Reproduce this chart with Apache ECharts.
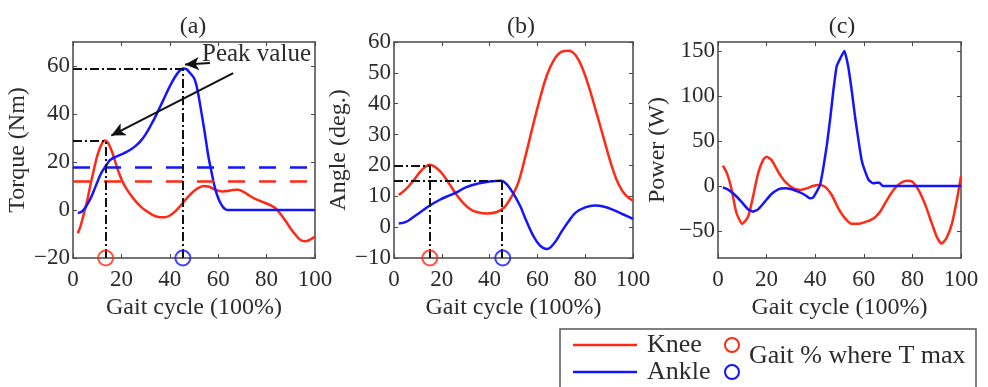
<!DOCTYPE html>
<html>
<head>
<meta charset="utf-8">
<script src="https://cdn.jsdelivr.net/npm/echarts@6/dist/echarts.min.js"></script>
<style>
  html, body { margin: 0; padding: 0; background: #ffffff; }
  #chart { width: 988px; height: 387px; }
</style>
</head>
<body>
<div id="chart"></div>
<script>
// ---- (a) joint torque (Nm) over the gait cycle (%) ----
const torqueKneeX = [2, 3, 4, 5, 6, 7, 8, 9, 10, 11, 12, 13, 14, 15, 16, 17, 18, 19, 20, 21, 22, 24, 26, 28, 30, 33, 36, 38, 40, 42, 44, 46, 48, 50, 52, 54, 56, 58, 60, 62, 64, 66, 68, 70, 72, 74, 76, 78, 80, 82, 84, 86, 88, 90, 92, 94, 96, 98, 100];
const torqueKneeY = [-9.7, -7, -3.5, 0.5, 4.5, 9.5, 14, 18.5, 22.5, 25.5, 27.8, 29, 28.6, 27, 24.6, 21.6, 18.4, 15.4, 12.9, 10.8, 9, 6, 3.5, 1.4, -0.2, -2.1, -3, -3, -2.3, -0.8, 1.3, 3.7, 6, 7.9, 9.3, 10, 9.8, 8.8, 8, 7.7, 7.9, 8.3, 8.4, 7.8, 6.6, 5.3, 4.3, 3.5, 2.7, 1.8, 0.5, -2, -4.8, -7.8, -10.4, -12.5, -13, -12.3, -11];
const torqueAnkleX = [2, 3, 4, 5, 6, 7, 8, 9, 10, 11, 12, 13, 14, 15, 16, 18, 20, 22, 24, 26, 28, 30, 32, 34, 36, 38, 40, 42, 44, 45.5, 47, 48, 50, 51, 52, 53, 54, 55, 56, 57, 58, 59, 60, 61, 62, 63, 64, 100];
const torqueAnkleY = [-1.2, -1, -0.3, 0.8, 2.5, 4.3, 6.5, 9, 11.5, 14, 16, 17.5, 19, 20.5, 21.3, 22.3, 23.2, 24.1, 25.3, 26.8, 28.8, 31.5, 35, 38.8, 43, 47.3, 51.5, 55.2, 58, 59, 58.6, 57.5, 55, 52, 47, 41, 35, 28.5, 22, 17, 12, 8, 5, 2.8, 1.2, 0.3, 0, 0];
const torqueMeanLevels = [12, 18];          // knee, ankle
const torquePeakX = [13.5, 45.4];           // knee, ankle
const torquePeakY = [29, 59];

// ---- (b) joint angle (deg.) ----
const angleKneeX = [2, 5, 8, 11, 13, 15, 17, 19, 21, 23, 26, 29, 32, 35, 39, 43, 46, 48, 50, 52, 55, 58, 61, 64, 67, 70, 73, 76, 79, 82, 85, 88, 91, 94, 97, 100];
const angleKneeY = [10.4, 12.3, 15, 18, 19.5, 20.2, 19.6, 18.3, 16.5, 14.2, 10.7, 7.8, 5.8, 4.8, 4.4, 4.9, 6.3, 8.4, 11, 14.4, 23, 32.5, 41.5, 49.3, 54.3, 56.8, 57.2, 55.7, 51.2, 44.3, 36.3, 28.1, 20.1, 13.8, 10.3, 8.6];
const angleAnkleX = [2, 5, 8, 11, 15, 19, 23, 26, 30, 35, 40, 45, 47, 49, 51, 53, 55, 58, 61, 64, 67, 70, 73, 76, 80, 84, 88, 92, 96, 100];
const angleAnkleY = [1.2, 1.7, 3.2, 4.8, 7, 8.8, 10.2, 11.2, 12.9, 14.1, 14.8, 15, 14, 12, 9.5, 6.5, 2.7, -2.4, -5.9, -7.1, -5.2, -1.6, 1.8, 4.7, 6.4, 7, 6.6, 5.5, 4.1, 2.7];
const anglePeakX = [15, 45];
const anglePeakY = [20, 15];
const angleMarkX = [15, 45.5];

// ---- (c) joint power (W) ----
const powerKneeX = [2, 3.7, 5.5, 7.6, 10, 12.4, 14.4, 16.5, 18.6, 20, 22, 24, 26, 28, 31, 34, 36.5, 39, 41.3, 44, 46.8, 49.5, 52.3, 55, 57.8, 61, 64, 66.7, 69.5, 72.2, 75, 77.7, 80, 82.5, 85.3, 88, 90, 92, 94, 96.3, 98.3, 100];
const powerKneeY = [22.6, 14, -2.6, -30, -42, -34, -12, 14, 29, 32.6, 29, 19.6, 10.4, 3.7, -2.6, -4.4, -2.6, 0, 1.1, -0.7, -10, -24.8, -36, -42, -42, -39.6, -36, -28.5, -15.6, -4.4, 3, 5.9, 4.8, -4.4, -21, -41.5, -56.3, -64, -58, -41.5, -15.6, 11.1];
const powerAnkleX = [2, 4, 7, 9.6, 12.4, 14.4, 16.5, 19.3, 22, 24.8, 27.5, 30.3, 33, 35.8, 37.8, 39.2, 40.6, 42, 43.3, 44.7, 46.1, 47.5, 48.8, 50, 52, 53.6, 55, 56.4, 57.8, 59.1, 60.1, 62, 64, 65.3, 66.4, 67.8, 100];
const powerAnkleY = [-1.5, -3.7, -10, -17.4, -26, -28.5, -26, -17.4, -8.9, -3.7, -2.6, -3.7, -6.3, -10, -13.7, -12.6, -6.3, 1.1, 19.6, 43.7, 73.3, 106.7, 132.6, 140, 150, 132.6, 106.7, 77, 51, 28.9, 19.6, 6.7, 3, 3.7, 3.7, 0, 0];

// ---- axis ranges and tick labels ----
const xTicks = [0, 20, 40, 60, 80, 100];
const torqueRange = [-20, 70];
const torqueTicks = [-20, 0, 20, 40, 60];
const angleRange = [-10, 60];
const angleTicks = [-10, 0, 10, 20, 30, 40, 50, 60];
const powerRange = [-80, 160];
const powerTicks = [-50, 0, 50, 100, 150];

const panelTitles = ['(a)', '(b)', '(c)'];
const yNames = ['Torque (Nm)', 'Angle (deg.)', 'Power (W)'];
const xName = 'Gait cycle (100%)';

const RED = '#ff2a14';
const BLUE = '#1414ff';
const INK = '#2b2b2b';
const FRAME = '#474747';
const FONT = 'Liberation Serif';

const pairs = (xs, ys) => xs.map((x, i) => [x, ys[i]]);

const grids = [
  { left: 73, top: 42, width: 242, height: 216 },
  { left: 394, top: 42, width: 239, height: 216 },
  { left: 718, top: 42, width: 243, height: 216 }
];

const frameLine = { onZero: false, lineStyle: { color: FRAME, width: 1.5 } };

function xAxes(g) {
  const tick = { inside: true, length: 4, lineStyle: { color: FRAME, width: 1 }, customValues: xTicks };
  return [
    {
      gridIndex: g, type: 'value', position: 'bottom', min: 0, max: 100,
      axisLine: frameLine, axisTick: tick, splitLine: { show: false },
      axisLabel: { customValues: xTicks, fontFamily: FONT, fontSize: 23, color: INK, margin: 10 },
      name: xName, nameLocation: 'middle', nameGap: 37,
      nameTextStyle: { fontFamily: FONT, fontSize: 24, color: INK }
    },
    {
      gridIndex: g, type: 'value', position: 'top', min: 0, max: 100,
      axisLine: frameLine, axisTick: tick, splitLine: { show: false },
      axisLabel: { show: false }
    }
  ];
}

function yAxes(g, range, ticks, name, gap) {
  const tick = { inside: true, length: 4, lineStyle: { color: FRAME, width: 1 }, customValues: ticks };
  return [
    {
      gridIndex: g, type: 'value', position: 'left', min: range[0], max: range[1],
      axisLine: frameLine, axisTick: tick, splitLine: { show: false },
      axisLabel: {
        customValues: ticks, fontFamily: FONT, fontSize: 23, color: INK, margin: 3,
        formatter: v => (v < 0 ? '\u2212' + Math.abs(v) : String(v))
      },
      name: name, nameLocation: 'middle', nameGap: gap, nameRotate: 90,
      nameTextStyle: { fontFamily: FONT, fontSize: 24, color: INK }
    },
    {
      gridIndex: g, type: 'value', position: 'right', min: range[0], max: range[1],
      axisLine: frameLine, axisTick: tick, splitLine: { show: false },
      axisLabel: { show: false }
    }
  ];
}

function curve(name, g, data, color, smooth, markLine) {
  const s = {
    name: name, type: 'line', xAxisIndex: 2 * g, yAxisIndex: 2 * g,
    data: data, smooth: smooth, symbol: 'none', showSymbol: false,
    lineStyle: { color: color, width: 2.5 }, itemStyle: { color: color },
    silent: true, z: 3
  };
  if (markLine) s.markLine = markLine;
  return s;
}

function ring(g, x, y, color) {
  return {
    type: 'scatter', xAxisIndex: 2 * g, yAxisIndex: 2 * g,
    data: [[x, y]], symbol: 'circle', symbolSize: 15, clip: false, silent: true, z: 6,
    itemStyle: { color: 'rgba(0,0,0,0)', borderColor: color, borderWidth: 2 }
  };
}

const dashDot = { color: '#111111', width: 2, type: [9, 3, 2, 3] };

// Dash-dot guides from the axes to a peak
function guides(px, py, xmin, ymin) {
  return [
    [{ coord: [xmin, py], lineStyle: dashDot }, { coord: [px, py] }],
    [{ coord: [px, ymin], lineStyle: dashDot }, { coord: [px, py] }]
  ];
}

const arrowStyle = { color: '#111111', width: 2, type: 'solid' };
const arrow = (from, to) => [
  { coord: from, symbol: 'none', lineStyle: arrowStyle },
  { coord: to, symbol: 'arrow', symbolSize: [10, 14] }
];

const torqueMarks = {
  silent: true, symbol: 'none', label: { show: false }, animation: false,
  data: [
    { yAxis: torqueMeanLevels[0], lineStyle: { color: RED, width: 2.5, type: [17, 14] } },
    { yAxis: torqueMeanLevels[1], lineStyle: { color: BLUE, width: 2.5, type: [17, 14] } },
    ...guides(torquePeakX[0], torquePeakY[0], 0, torqueRange[0]),
    ...guides(torquePeakX[1], torquePeakY[1], 0, torqueRange[0]),
    arrow([56.6, 61.3], [46.3, 60.6]),
    arrow([66.2, 57], [15.8, 31])
  ]
};

const angleMarks = {
  silent: true, symbol: 'none', label: { show: false }, animation: false,
  data: [
    ...guides(anglePeakX[0], anglePeakY[0], 0, angleRange[0]),
    ...guides(anglePeakX[1], anglePeakY[1], 0, angleRange[0])
  ]
};

const chart = echarts.init(document.getElementById('chart'), null, { renderer: 'canvas' });

const titleStyle = { fontFamily: FONT, fontSize: 24, fontWeight: 'normal', color: INK };

chart.setOption({
  animation: false,
  backgroundColor: '#ffffff',
  title: [
    { text: panelTitles[0], left: 188, top: 10, textAlign: 'center', textStyle: titleStyle },
    { text: panelTitles[1], left: 516, top: 10, textAlign: 'center', textStyle: titleStyle },
    { text: panelTitles[2], left: 837, top: 10, textAlign: 'center', textStyle: titleStyle }
  ],
  grid: grids,
  xAxis: [...xAxes(0), ...xAxes(1), ...xAxes(2)],
  yAxis: [
    ...yAxes(0, torqueRange, torqueTicks, yNames[0], 38),
    ...yAxes(1, angleRange, angleTicks, yNames[1], 40),
    ...yAxes(2, powerRange, powerTicks, yNames[2], 48)
  ],
  legend: {
    data: ['Knee', 'Ankle'], orient: 'vertical', left: 573, top: 332, padding: 0,
    icon: 'rect', itemWidth: 64, itemHeight: 2.5, itemGap: 1, selectedMode: false,
    textStyle: { fontFamily: FONT, fontSize: 26, color: INK, lineHeight: 26, padding: [0, 0, 0, 5] }
  },
  series: [
    curve('Knee', 0, pairs(torqueKneeX, torqueKneeY), RED, 0.35, torqueMarks),
    curve('Ankle', 0, pairs(torqueAnkleX, torqueAnkleY), BLUE, 0.35),
    ring(0, torquePeakX[0], torqueRange[0], RED),
    ring(0, torquePeakX[1], torqueRange[0], BLUE),

    curve('Knee', 1, pairs(angleKneeX, angleKneeY), RED, 0.4, angleMarks),
    curve('Ankle', 1, pairs(angleAnkleX, angleAnkleY), BLUE, 0.4),
    ring(1, angleMarkX[0], angleRange[0], RED),
    ring(1, angleMarkX[1], angleRange[0], BLUE),

    curve('Knee', 2, pairs(powerKneeX, powerKneeY), RED, 0.2),
    curve('Ankle', 2, pairs(powerAnkleX, powerAnkleY), BLUE, 0.15)
  ],
  graphic: [
    {
      type: 'text', left: 202, top: 42, z: 10,
      style: { text: 'Peak value', font: '25px "Liberation Serif"', fill: INK }
    },
    {
      type: 'rect', shape: { x: 560, y: 329, width: 416, height: 80 }, z: 1,
      style: { fill: 'none', stroke: '#555555', lineWidth: 1.5 }
    },
    {
      type: 'circle', shape: { cx: 732, cy: 345, r: 7 }, z: 10,
      style: { fill: 'none', stroke: RED, lineWidth: 2 }
    },
    {
      type: 'circle', shape: { cx: 732, cy: 372, r: 7 }, z: 10,
      style: { fill: 'none', stroke: BLUE, lineWidth: 2 }
    },
    {
      type: 'text', left: 749, top: 343, z: 10,
      style: { text: 'Gait % where T max', font: '26px "Liberation Serif"', fill: INK }
    }
  ]
});
</script>
</body>
</html>
